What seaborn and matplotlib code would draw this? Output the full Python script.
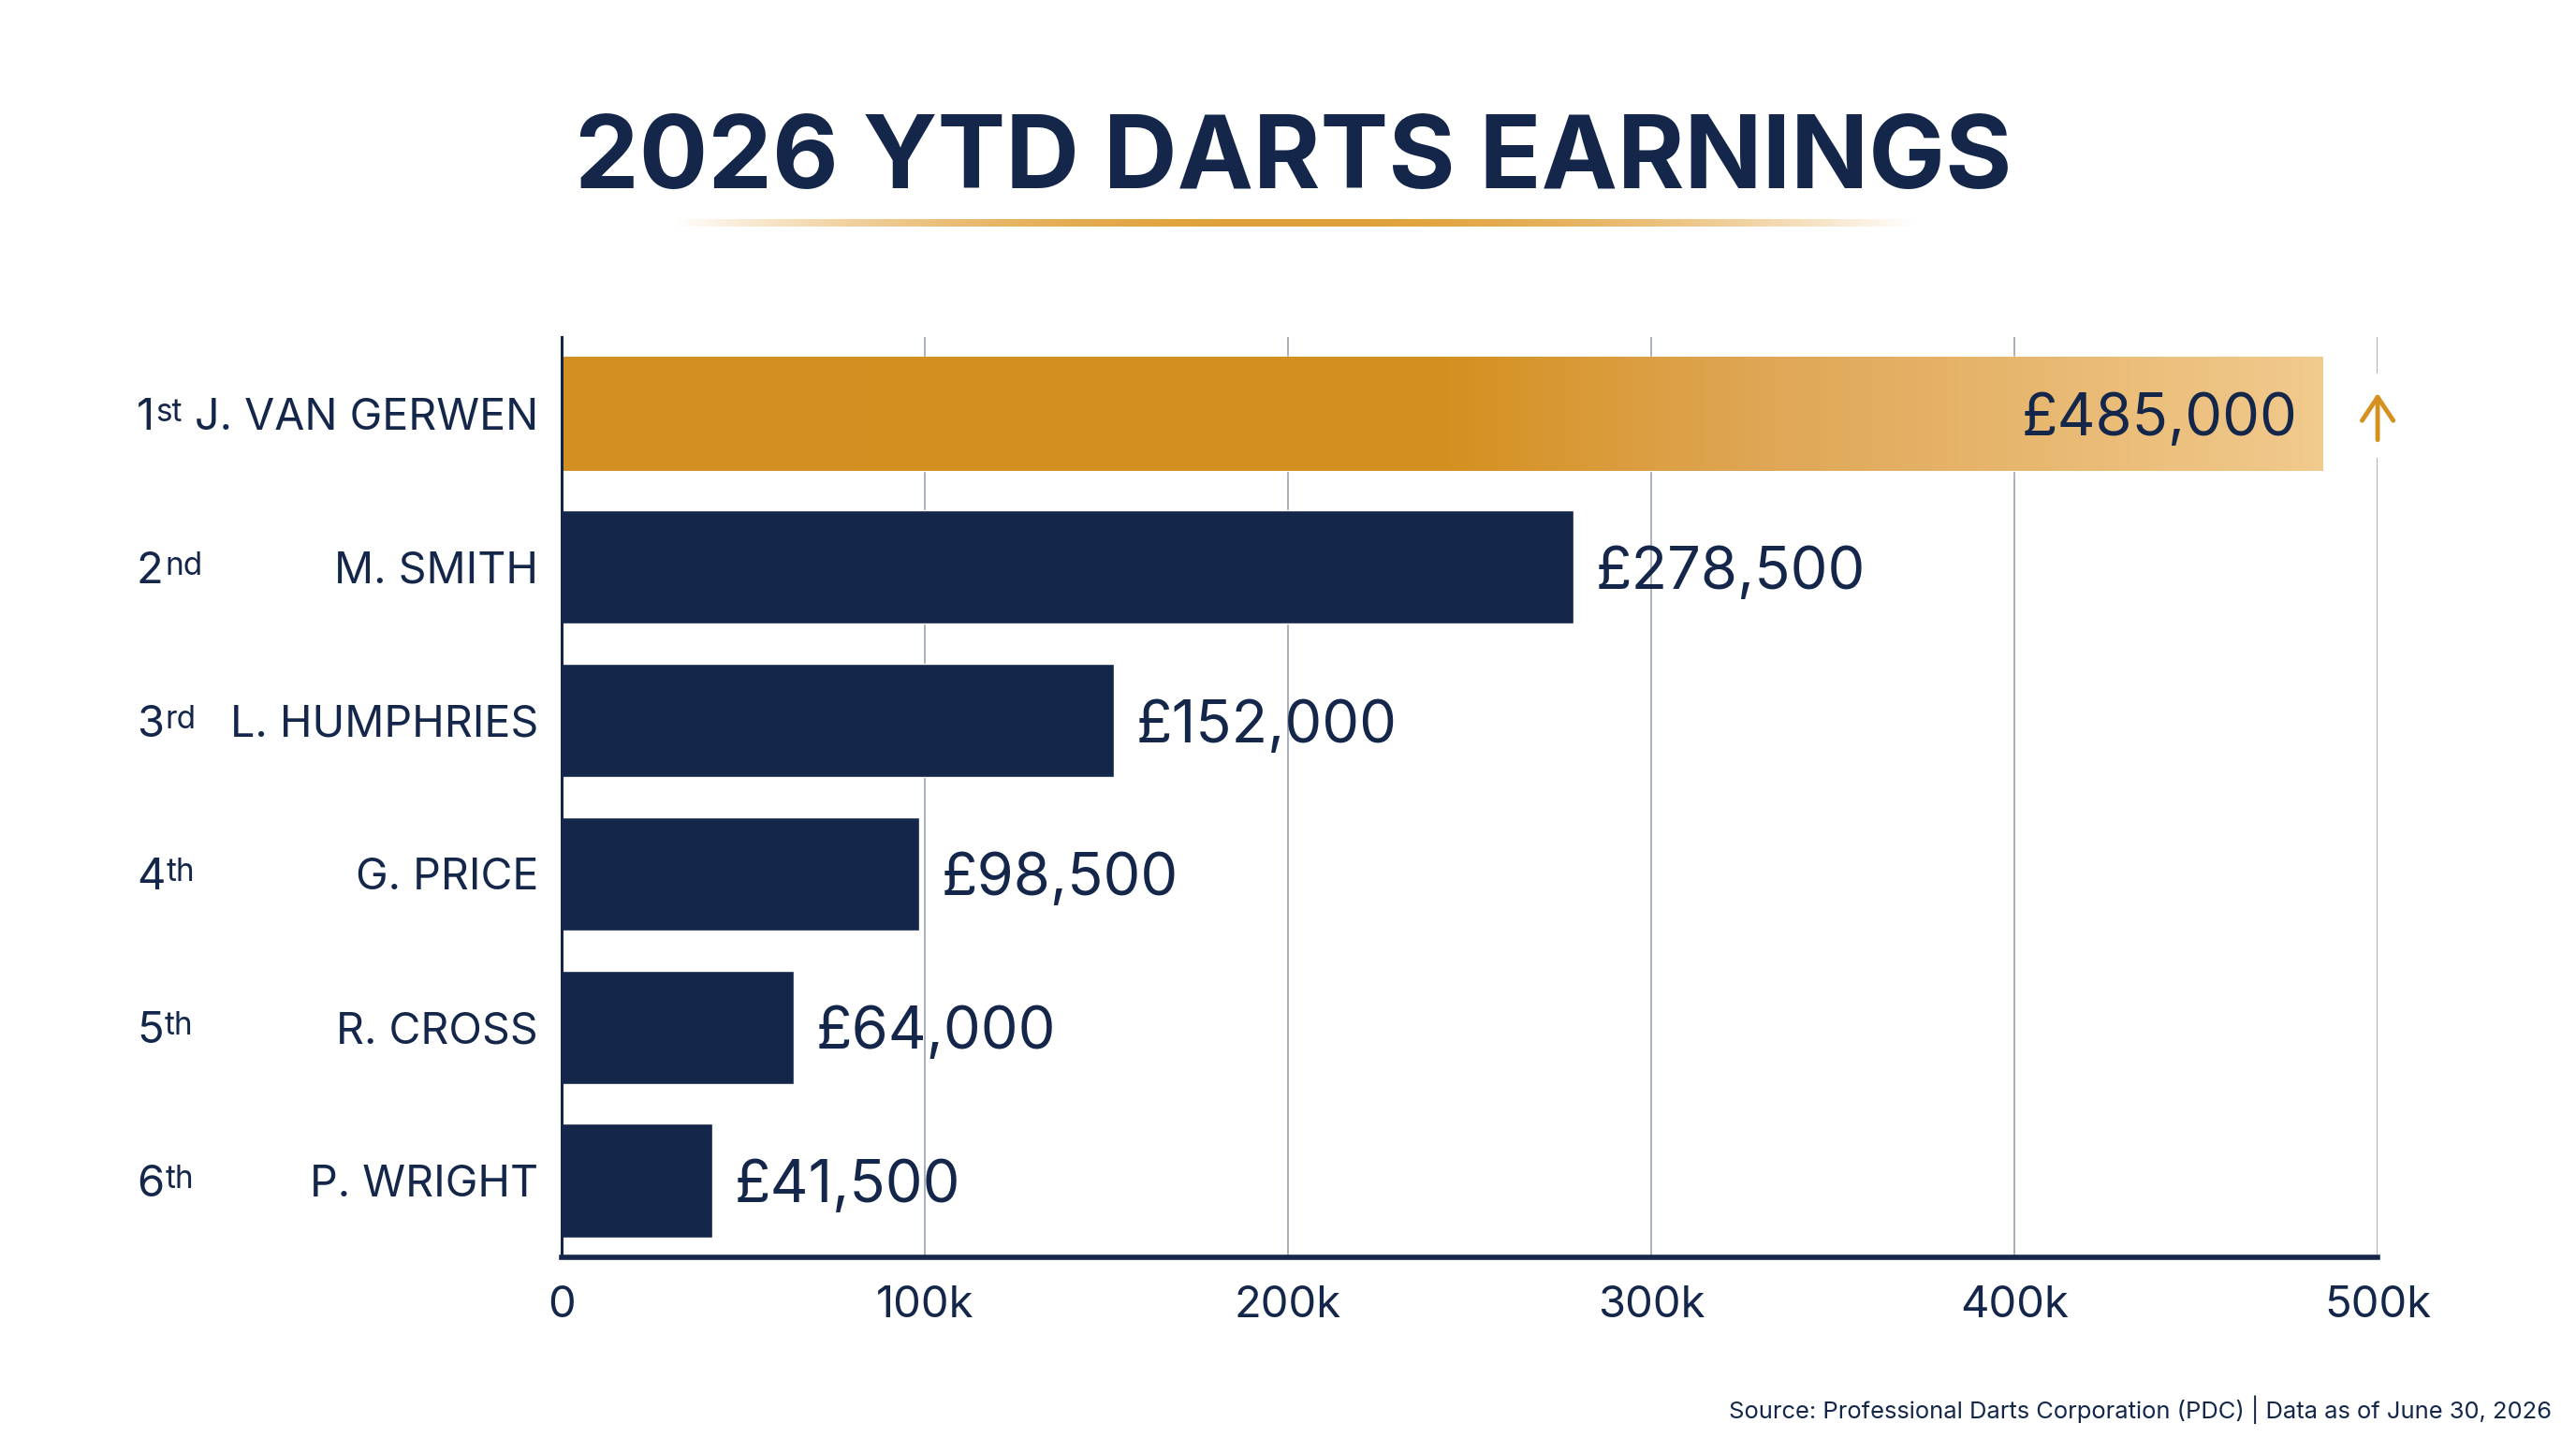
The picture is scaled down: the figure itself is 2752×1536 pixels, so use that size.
import matplotlib
matplotlib.use("Agg")
import matplotlib.pyplot as plt
import matplotlib.transforms as mtransforms
from matplotlib.colors import LinearSegmentedColormap
from matplotlib.patches import Rectangle
import seaborn as sns
import numpy as np
import pandas as pd

NAVY = "#14274A"
GOLD = "#D5911F"
GRID = "#A3AABA"

players = ["J. VAN GERWEN", "M. SMITH", "L. HUMPHRIES", "G. PRICE", "R. CROSS", "P. WRIGHT"]
rank_num = ["1", "2", "3", "4", "5", "6"]
rank_suffix = ["st", "nd", "rd", "th", "th", "th"]
earnings = [485000, 278500, 152000, 98500, 64000, 41500]
value_labels = ["£485,000", "£278,500", "£152,000", "£98,500", "£64,000", "£41,500"]
xticks = [0, 100000, 200000, 300000, 400000, 500000]
xtick_labels = ["0", "100k", "200k", "300k", "400k", "500k"]

df = pd.DataFrame({"player": players, "earnings": earnings})

sns.set_theme(style="white")
plt.rcParams["font.family"] = ["Inter", "DejaVu Sans"]

fig = plt.figure(figsize=(27.52, 15.36), dpi=100)
fig.patch.set_facecolor("white")
ax = fig.add_axes([0.218, 0.1257, 0.705, 0.6399])

colors = [GOLD] + [NAVY] * (len(players) - 1)
sns.barplot(data=df, x="earnings", y="player", hue="player", palette=colors,
            legend=False, width=0.74, orient="h", ax=ax, saturation=1, zorder=3)

# gradient on the leader bar
gold_cmap = LinearSegmentedColormap.from_list(
    "gold", [(0.0, "#D38F22"), (0.5, "#D4901F"), (0.68, "#DFA655"), (1.0, "#F1CA8D")])
lead = ax.patches[0]
x0, y0 = lead.get_x(), lead.get_y()
w, h = lead.get_width(), lead.get_height()
grad = np.linspace(0, 1, 512).reshape(1, -1)
img = ax.imshow(grad, extent=[x0, x0 + w, y0 + h, y0], aspect="auto", cmap=gold_cmap, zorder=3)
img.set_clip_path(lead)
lead.set_facecolor("none")

ax.set_xlim(0, 500000)
ax.set_ylim(5.5, -0.5)
ax.set_xticks(xticks)
ax.set_xticklabels(xtick_labels)
ax.set_xlabel("")
ax.set_ylabel("")
ax.tick_params(axis="x", length=0, pad=22, labelsize=34, colors=NAVY)
ax.tick_params(axis="y", length=0, pad=18, labelsize=33.5, colors=NAVY)
for t in ax.get_yticklabels():
    t.set_color(NAVY)
    t.set_verticalalignment("center_baseline")

for xv in xticks[1:]:
    ax.axvline(xv, color=GRID, lw=1.3, zorder=1)

for side in ["top", "right"]:
    ax.spines[side].set_visible(False)
ax.spines["left"].set_color(NAVY)
ax.spines["left"].set_linewidth(2.2)
ax.spines["bottom"].set_color(NAVY)
ax.spines["bottom"].set_linewidth(4)
ax.spines["left"].set_zorder(4)
ax.spines["bottom"].set_zorder(4)

# value labels
for i, (v, lab) in enumerate(zip(earnings, value_labels)):
    if i == 0:
        ax.annotate(lab, xy=(v, i), xytext=(-20, 0), textcoords="offset points",
                    ha="right", va="center_baseline", fontsize=45.5, color=NAVY, zorder=5)
    else:
        ax.annotate(lab, xy=(v, i), xytext=(17, 0), textcoords="offset points",
                    ha="left", va="center_baseline", fontsize=45.5, color=NAVY, zorder=5)

# leader arrow sitting on the 500k gridline, with a gap cut in the line
ax.add_patch(Rectangle((500000 - 4000, -0.26), 8000, 0.55, facecolor="white",
                       edgecolor="none", zorder=2, clip_on=False))
ax.annotate("", xy=(500000, -0.135), xytext=(500000, 0.17),
            arrowprops=dict(arrowstyle="->,head_length=0.45,head_width=0.3", lw=3.5,
                            color=GOLD, shrinkA=0, shrinkB=0, mutation_scale=40,
                            capstyle="round", joinstyle="round"),
            annotation_clip=False, zorder=6)

# rank labels with superscript suffix
trans = mtransforms.blended_transform_factory(fig.transFigure, ax.transData)
for i, (n, s) in enumerate(zip(rank_num, rank_suffix)):
    t = ax.text(0.053, i, n, transform=trans, ha="left", va="center_baseline",
                fontsize=34, color=NAVY)
    ax.annotate(s, xy=(1.0, 1.0), xycoords=t, xytext=(1, 0), textcoords="offset points",
                ha="left", va="top", fontsize=24, color=NAVY)

# title and gold underline
fig.text(0.502, 0.888, "2026 YTD DARTS EARNINGS", ha="center", va="center",
         fontsize=78.5, fontweight="bold", color=NAVY)
ul = fig.add_axes([720 / 2752, 1 - 242 / 1536, 1325 / 2752, 8 / 1536])
ul.axis("off")
pos = np.linspace(-1, 1, 800)
alpha = np.clip(1 - np.abs(pos) ** 2, 0, 1)
rgba = np.zeros((1, 800, 4))
rgba[..., 0] = 0xE0 / 255
rgba[..., 1] = 0xA0 / 255
rgba[..., 2] = 0x38 / 255
rgba[..., 3] = alpha
ul.imshow(rgba, aspect="auto")

fig.text(0.9906, 0.0195, "Source: Professional Darts Corporation (PDC) | Data as of June 30, 2026",
         ha="right", va="center", fontsize=18.4, color=NAVY)

plt.savefig("out.png", dpi=100, facecolor="white")
